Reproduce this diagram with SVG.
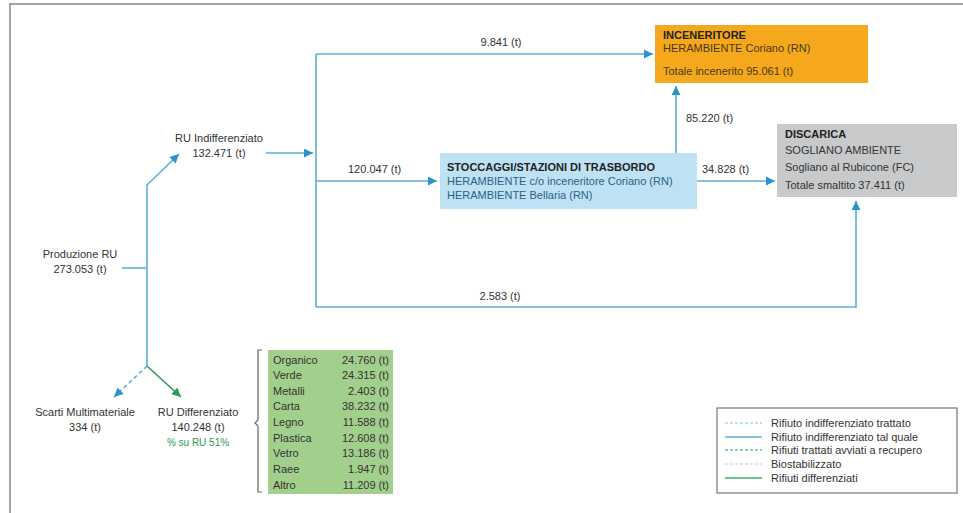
<svg xmlns="http://www.w3.org/2000/svg" width="963" height="513" viewBox="0 0 963 513">
<style>
text{font-family:"Liberation Sans",Arial,sans-serif;font-size:11px;fill:#333}
.b{font-weight:bold;fill:#222}
.c{text-anchor:middle}
.r{text-anchor:end}
.ln{fill:none;stroke:#5BB0D6;stroke-width:1.6}
.g{fill:none;stroke:#2E9A55;stroke-width:1.6}
.bt{fill:#4A3A12}
.gt{fill:#2E9A55;font-size:10px}
</style>
<defs>
<marker id="ab" viewBox="0 0 10 10" refX="10" refY="5" markerWidth="10" markerHeight="9" markerUnits="userSpaceOnUse" orient="auto"><path d="M0,0L10,5L0,10z" fill="#2A92CC"/></marker>
<marker id="ag" viewBox="0 0 10 10" refX="10" refY="5" markerWidth="10" markerHeight="9" markerUnits="userSpaceOnUse" orient="auto"><path d="M0,0L10,5L0,10z" fill="#2E9A55"/></marker>
</defs>
<rect x="0" y="0" width="963" height="513" fill="#fff"/>
<rect x="10" y="4" width="980" height="540" fill="none" stroke="#888" stroke-width="1.5"/>

<g id="connectors">
<polyline class="ln" points="122,268 147,268"/>
<polyline class="ln" points="147,366 147,185 179,154" marker-end="url(#ab)"/>
<line class="ln" x1="266" y1="153" x2="313" y2="153" marker-end="url(#ab)"/>
<line class="ln" x1="316" y1="54" x2="316" y2="307"/>
<line class="ln" x1="316" y1="54" x2="653" y2="54" marker-end="url(#ab)"/>
<line class="ln" x1="316" y1="181" x2="437" y2="181" marker-end="url(#ab)"/>
<polyline class="ln" points="316,307 856,307 856,201" marker-end="url(#ab)"/>
<line class="ln" x1="676" y1="153" x2="676" y2="86" marker-end="url(#ab)"/>
<line class="ln" x1="697" y1="181" x2="775" y2="181" marker-end="url(#ab)"/>
<line class="ln" x1="147" y1="366" x2="114" y2="397" stroke-dasharray="4,3" marker-end="url(#ab)"/>
<line class="g" x1="147" y1="366" x2="181" y2="397" marker-end="url(#ag)"/>
<text x="501" y="46" class="c">9.841 (t)</text>
<text x="348" y="173">120.047 (t)</text>
<text x="702" y="173">34.828 (t)</text>
<text x="686" y="122">85.220 (t)</text>
<text x="500" y="300" class="c">2.583 (t)</text>
</g>

<g id="produzione">
<text x="80" y="258" class="c">Produzione RU</text>
<text x="80" y="273" class="c">273.053 (t)</text>
</g>

<g id="ru-indiff">
<text x="219" y="142" class="c">RU Indifferenziato</text>
<text x="219" y="157" class="c">132.471 (t)</text>
</g>

<g id="inceneritore">
<rect x="655" y="25" width="213" height="58" fill="#F5A81C"/>
<text x="663" y="39" class="b">INCENERITORE</text>
<text x="663" y="52" class="bt">HERAMBIENTE Coriano (RN)</text>
<text x="663" y="75" class="bt">Totale incenerito 95.061 (t)</text>
</g>

<g id="stoccaggi">
<rect x="440" y="153" width="257" height="56" fill="#BEE2F4"/>
<text x="447" y="171" class="b">STOCCAGGI/STAZIONI DI TRASBORDO</text>
<text x="447" y="185" style="fill:#2C5F86">HERAMBIENTE c/o inceneritore Coriano (RN)</text>
<text x="447" y="199" style="fill:#2C5F86">HERAMBIENTE Bellaria (RN)</text>
</g>

<g id="discarica">
<rect x="777" y="124" width="180" height="73" fill="#C8C9CB"/>
<text x="785" y="138" class="b">DISCARICA</text>
<text x="785" y="154">SOGLIANO AMBIENTE</text>
<text x="785" y="171">Sogliano al Rubicone (FC)</text>
<text x="785" y="189">Totale smaltito 37.411 (t)</text>
</g>

<g id="scarti">
<text x="85" y="416" class="c">Scarti Multimateriale</text>
<text x="85" y="431" class="c">334 (t)</text>
</g>

<g id="ru-diff">
<text x="198" y="416" class="c">RU Differenziato</text>
<text x="198" y="431" class="c">140.248 (t)</text>
<text x="198" y="446" class="c gt">% su RU 51%</text>
</g>

<g id="dettaglio">
<path d="M262,350 H258 V420 L255,423 L258,426 V492 H262" fill="none" stroke="#666" stroke-width="1.2"/>
<rect x="268" y="350" width="125" height="144" fill="#A2CF8C"/>
<g style="fill:#2E5E36">
<text x="273" y="364">Organico</text><text x="389" y="364" class="r">24.760 (t)</text>
<text x="273" y="379">Verde</text><text x="389" y="379" class="r">24.315 (t)</text>
<text x="273" y="395">Metalli</text><text x="389" y="395" class="r">2.403 (t)</text>
<text x="273" y="410">Carta</text><text x="389" y="410" class="r">38.232 (t)</text>
<text x="273" y="426">Legno</text><text x="389" y="426" class="r">11.588 (t)</text>
<text x="273" y="442">Plastica</text><text x="389" y="442" class="r">12.608 (t)</text>
<text x="273" y="457">Vetro</text><text x="389" y="457" class="r">13.186 (t)</text>
<text x="273" y="473">Raee</text><text x="389" y="473" class="r">1.947 (t)</text>
<text x="273" y="489">Altro</text><text x="389" y="489" class="r">11.209 (t)</text>
</g>
</g>

<g id="legenda">
<rect x="717" y="408" width="240" height="85" fill="#fff" stroke="#777" stroke-width="1.2"/>
<line x1="725" y1="423" x2="762" y2="423" stroke="#7CC3E3" stroke-width="1.2" stroke-dasharray="3,2"/>
<line x1="725" y1="437" x2="762" y2="437" stroke="#5BB0D6" stroke-width="1.4"/>
<line x1="725" y1="450" x2="762" y2="450" stroke="#2E9A55" stroke-width="1.2" stroke-dasharray="3,2"/>
<line x1="725" y1="464" x2="762" y2="464" stroke="#C8CCCC" stroke-width="1" stroke-dasharray="3,2"/>
<line x1="725" y1="478" x2="762" y2="478" stroke="#3FAF6A" stroke-width="1.4"/>
<text x="771" y="427">Rifiuto indifferenziato trattato</text>
<text x="771" y="441">Rifiuto indifferenziato tal quale</text>
<text x="771" y="454">Rifiuti trattati avviati a recupero</text>
<text x="771" y="468">Biostabilizzato</text>
<text x="771" y="482">Rifiuti differenziati</text>
</g>
</svg>
